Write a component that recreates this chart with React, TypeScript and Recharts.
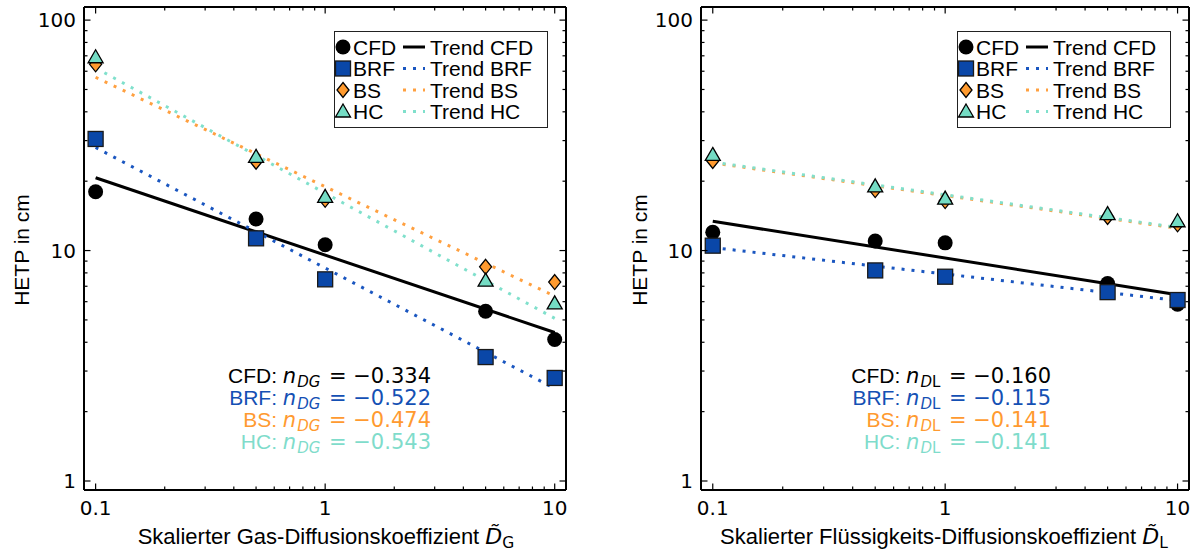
import React from 'react';
import { ComposedChart, Line, Scatter, XAxis, YAxis, Legend } from 'recharts';

// ---------- data ----------
const xValues = [0.1, 0.5, 1, 5, 10];
const trendX = [0.1, 10];

// Gas diffusion panel
const gasCFD = [18.0, 13.7, 10.6, 5.45, 4.11];
const gasBRF = [30.5, 11.3, 7.5, 3.45, 2.8];
const gasBS = [64.3, 24.3, 16.6, 8.5, 7.3];
const gasHC = [69.0, 25.5, 17.1, 7.4, 5.9];
const gasTrendCFD = [20.7, 4.41];
const gasTrendBRF = [28.0, 2.52];
const gasTrendBS = [56.5, 6.34];
const gasTrendHC = [62.0, 5.08];
const gasExponents = ['−0.334', '−0.522', '−0.474', '−0.543'];

// Liquid diffusion panel
const liqCFD = [12.0, 11.0, 10.8, 7.2, 5.85];
const liqBRF = [10.5, 8.2, 7.7, 6.6, 6.1];
const liqBS = [24.5, 18.3, 16.4, 14.0, 13.0];
const liqHC = [26.0, 19.0, 16.8, 14.4, 13.4];
const liqTrendCFD = [13.4, 6.43];
const liqTrendBRF = [10.3, 6.07];
const liqTrendBS = [24.0, 12.5];
const liqTrendHC = [24.2, 12.6];
const liqExponents = ['−0.160', '−0.115', '−0.141', '−0.141'];

const seriesNames = ['CFD', 'BRF', 'BS', 'HC'];
const xTicks = [0.1, 0.2, 0.3, 0.4, 0.5, 0.6, 0.7, 0.8, 0.9, 1, 2, 3, 4, 5, 6, 7, 8, 9, 10];
const yTicks = [1, 2, 3, 4, 5, 6, 7, 8, 9, 10, 20, 30, 40, 50, 60, 70, 80, 90, 100];
const majorTicks = [0.1, 1, 10, 100];
const tickLabels = ['0.1', '1', '10', '100'];

const X_DOMAIN: [number, number] = [0.089, 11.2];
const Y_DOMAIN: [number, number] = [0.914, 114];

// ---------- styles ----------
const COLORS = {
  CFD: '#000000',
  BRF: '#0a47a8',
  BS: '#ff9a2e',
  HC: '#74dcc4',
};
const TREND_COLORS = ['#000000', '#1a56c0', '#ffa040', '#80e0cc'];
const TEXT_COLORS = ['#000000', '#1450b4', '#ff9a30', '#7fdccb'];
const MATH = '"DejaVu Sans", sans-serif';
const SANS = '"Liberation Sans", Arial, sans-serif';

const toPts = (ys: number[]) => xValues.map((x, i) => ({ x, y: ys[i] }));
const toTrend = (ys: number[]) => trendX.map((x, i) => ({ x, y: ys[i] }));

const majorIndex = (v: number) => majorTicks.findIndex((m) => Math.abs(v - m) < 1e-9);

// ---------- markers ----------
function markerShape(kind: string, cx: number, cy: number) {
  if (kind === 'CFD') return <circle cx={cx} cy={cy} r={7.5} fill={COLORS.CFD} />;
  if (kind === 'BRF')
    return <rect x={cx - 7.5} y={cy - 7.5} width={15} height={15} fill={COLORS.BRF} stroke="#1a1a1a" strokeWidth={1.3} />;
  if (kind === 'BS')
    return (
      <polygon
        points={`${cx},${cy - 7.5} ${cx + 6},${cy} ${cx},${cy + 7.5} ${cx - 6},${cy}`}
        fill={COLORS.BS}
        stroke="#000"
        strokeWidth={1.3}
      />
    );
  return (
    <polygon
      points={`${cx},${cy - 7.5} ${cx + 7.5},${cy + 5.5} ${cx - 7.5},${cy + 5.5}`}
      fill={COLORS.HC}
      stroke="#000"
      strokeWidth={1.3}
    />
  );
}

// ---------- ticks (inward) ----------
const MAJ = 6.5;
const MIN = 3.5;
const BottomTick = (p: any) => {
  const { x, y, payload } = p;
  const mi = majorIndex(payload.value);
  return (
    <g>
      <line x1={x} x2={x} y1={y} y2={y - (mi >= 0 ? MAJ : MIN)} stroke="#000" strokeWidth={1.2} />
      {mi >= 0 && (
        <text x={x} y={y + 25} textAnchor="middle" fontFamily={MATH} fontSize={20} fill="#000">
          {tickLabels[mi]}
        </text>
      )}
    </g>
  );
};
const TopTick = (p: any) => {
  const { x, y, payload } = p;
  const mi = majorIndex(payload.value);
  return <line x1={x} x2={x} y1={y} y2={y + (mi >= 0 ? MAJ : MIN)} stroke="#000" strokeWidth={1.2} />;
};
const LeftTick = (p: any) => {
  const { x, y, payload } = p;
  const mi = majorIndex(payload.value);
  return (
    <g>
      <line x1={x} x2={x + (mi >= 0 ? MAJ : MIN)} y1={y} y2={y} stroke="#000" strokeWidth={1.2} />
      {mi >= 0 && (
        <text x={x - 8} y={y + 7} textAnchor="end" fontFamily={MATH} fontSize={20} fill="#000">
          {tickLabels[mi]}
        </text>
      )}
    </g>
  );
};
const RightTick = (p: any) => {
  const { x, y, payload } = p;
  const mi = majorIndex(payload.value);
  return <line x1={x} x2={x - (mi >= 0 ? MAJ : MIN)} y1={y} y2={y} stroke="#000" strokeWidth={1.2} />;
};

// ---------- legend ----------
const LegendBox = () => {
  const rowY = [16, 37.5, 59, 80.5];
  return (
    <svg width={214} height={97} style={{ display: 'block' }}>
      <rect x={0.5} y={0.5} width={213} height={96} fill="#fff" stroke="#222" strokeWidth={1} />
      {seriesNames.map((n, i) => (
        <g key={n}>
          {markerShape(n, 9, rowY[i])}
          <text x={19} y={rowY[i] + 7.5} fontFamily={SANS} fontSize={21} fill="#000">
            {n}
          </text>
          <line
            x1={69}
            x2={91}
            y1={rowY[i]}
            y2={rowY[i]}
            stroke={TREND_COLORS[i]}
            strokeWidth={3}
            strokeDasharray={i === 0 ? undefined : '3 7'}
          />
          <text x={96} y={rowY[i] + 7.5} fontFamily={SANS} fontSize={21} fill="#000">
            {'Trend ' + n}
          </text>
        </g>
      ))}
    </svg>
  );
};

// ---------- panel ----------
function Panel(props: {
  left: number;
  width: number;
  marginLeft: number;
  marginRight: number;
  legendLeft: number;
  points: number[][];
  trends: number[][];
}) {
  const { left, width, marginLeft, marginRight, legendLeft, points, trends } = props;
  const axisLine = { stroke: '#000', strokeWidth: 2 };
  return (
    <div style={{ position: 'absolute', left, top: 0 }}>
      <ComposedChart
        width={width}
        height={552}
        margin={{ top: 6, right: marginRight, bottom: 61, left: marginLeft }}
      >
        <XAxis
          xAxisId="b"
          orientation="bottom"
          type="number"
          dataKey="x"
          scale="log"
          domain={X_DOMAIN}
          allowDataOverflow
          ticks={xTicks}
          interval={0}
          tickLine={false}
          tickSize={0}
          tickMargin={0}
          height={1}
          axisLine={axisLine}
          tick={(p: any) => <BottomTick {...p} />}
        />
        <XAxis
          xAxisId="t"
          orientation="top"
          type="number"
          dataKey="x"
          scale="log"
          domain={X_DOMAIN}
          allowDataOverflow
          ticks={xTicks}
          interval={0}
          tickLine={false}
          tickSize={0}
          tickMargin={0}
          height={1}
          axisLine={axisLine}
          tick={(p: any) => <TopTick {...p} />}
        />
        <YAxis
          yAxisId="l"
          orientation="left"
          type="number"
          dataKey="y"
          scale="log"
          domain={Y_DOMAIN}
          allowDataOverflow
          ticks={yTicks}
          interval={0}
          tickLine={false}
          tickSize={0}
          tickMargin={0}
          width={1}
          axisLine={axisLine}
          tick={(p: any) => <LeftTick {...p} />}
        />
        <YAxis
          yAxisId="r"
          orientation="right"
          type="number"
          dataKey="y"
          scale="log"
          domain={Y_DOMAIN}
          allowDataOverflow
          ticks={yTicks}
          interval={0}
          tickLine={false}
          tickSize={0}
          tickMargin={0}
          width={1}
          axisLine={axisLine}
          tick={(p: any) => <RightTick {...p} />}
        />
        <Line
          xAxisId="t"
          yAxisId="r"
          data={toTrend(trends[0])}
          dataKey="y"
          stroke="none"
          dot={false}
          activeDot={false}
          legendType="none"
          isAnimationActive={false}
        />
        {trends.map((t, i) => (
          <Line
            key={'t' + i}
            xAxisId="b"
            yAxisId="l"
            data={toTrend(t)}
            dataKey="y"
            type="linear"
            stroke={TREND_COLORS[i]}
            strokeWidth={3}
            strokeDasharray={i === 0 ? undefined : '3 7'}
            dot={false}
            activeDot={false}
            isAnimationActive={false}
          />
        ))}
        {points.map((pts, i) => (
          <Scatter
            key={'s' + i}
            xAxisId="b"
            yAxisId="l"
            data={toPts(pts)}
            dataKey="y"
            isAnimationActive={false}
            shape={(sp: any) => markerShape(seriesNames[i], sp.cx, sp.cy)}
          />
        ))}
        <Legend
          layout="vertical"
          align="center"
          verticalAlign="middle"
          wrapperStyle={{ position: 'absolute', left: legendLeft, top: 31, width: 214, height: 97 }}
          content={() => <LegendBox />}
        />
      </ComposedChart>
    </div>
  );
}

// ---------- annotations ----------
function Annotation(props: { right: number; exps: string[]; sub: 'G' | 'L' }) {
  const { right, exps, sub } = props;
  const base = [383, 405, 427, 449];
  return (
    <>
      {seriesNames.map((n, i) => (
        <text
          key={n}
          x={right}
          y={base[i]}
          textAnchor="end"
          fontSize={21}
          fill={TEXT_COLORS[i]}
          style={{ whiteSpace: 'pre' }}
        >
          <tspan fontFamily={SANS}>{n + ': '}</tspan>
          <tspan fontFamily={MATH} fontStyle="italic">n</tspan>
          {sub === 'G' ? (
            <tspan fontFamily={MATH} fontStyle="italic" fontSize={15} dx={1} dy={3.5}>DG</tspan>
          ) : (
            <tspan fontFamily={MATH} fontStyle="italic" fontSize={15} dx={1} dy={3.5}>D</tspan>
          )}
          {sub === 'L' && (
            <tspan fontFamily={MATH} fontSize={15}>L</tspan>
          )}
          <tspan fontFamily={MATH} dx={2} dy={-3.5}>{' = ' + exps[i]}</tspan>
        </text>
      ))}
    </>
  );
}

export default function App() {
  return (
    <div style={{ position: 'absolute', left: 0, top: 0, width: 1197, height: 552, background: '#fff' }}>
      <Panel
        left={0}
        width={600}
        marginLeft={83}
        marginRight={33}
        legendLeft={334}
        points={[gasCFD, gasBRF, gasBS, gasHC]}
        trends={[gasTrendCFD, gasTrendBRF, gasTrendBS, gasTrendHC]}
      />
      <Panel
        left={600}
        width={597}
        marginLeft={100}
        marginRight={7}
        legendLeft={357}
        points={[liqCFD, liqBRF, liqBS, liqHC]}
        trends={[liqTrendCFD, liqTrendBRF, liqTrendBS, liqTrendHC]}
      />
      <svg
        width={1197}
        height={552}
        style={{ position: 'absolute', left: 0, top: 0, pointerEvents: 'none' }}
      >
        <Annotation right={431} exps={gasExponents} sub="G" />
        <Annotation right={1051} exps={liqExponents} sub="L" />
        <text x={326} y={544} textAnchor="middle" fontSize={22} fill="#000">
          <tspan fontFamily={SANS}>{'Skalierter Gas-Diffusionskoeffizient '}</tspan>
          <tspan fontFamily={MATH} fontStyle="italic">{'D\u0303'}</tspan>
          <tspan fontFamily={MATH} fontSize={15.5} dy={4}>G</tspan>
        </text>
        <text x={944} y={544} textAnchor="middle" fontSize={22} fill="#000">
          <tspan fontFamily={SANS}>{'Skalierter Flüssigkeits-Diffusionskoeffizient '}</tspan>
          <tspan fontFamily={MATH} fontStyle="italic">{'D\u0303'}</tspan>
          <tspan fontFamily={MATH} fontSize={15.5} dy={4}>L</tspan>
        </text>
        <text
          x={29}
          y={250}
          transform="rotate(-90 29 250)"
          textAnchor="middle"
          fontFamily={SANS}
          fontSize={21}
          fill="#000"
        >
          HETP in cm
        </text>
        <text
          x={647}
          y={250}
          transform="rotate(-90 647 250)"
          textAnchor="middle"
          fontFamily={SANS}
          fontSize={21}
          fill="#000"
        >
          HETP in cm
        </text>
      </svg>
    </div>
  );
}
